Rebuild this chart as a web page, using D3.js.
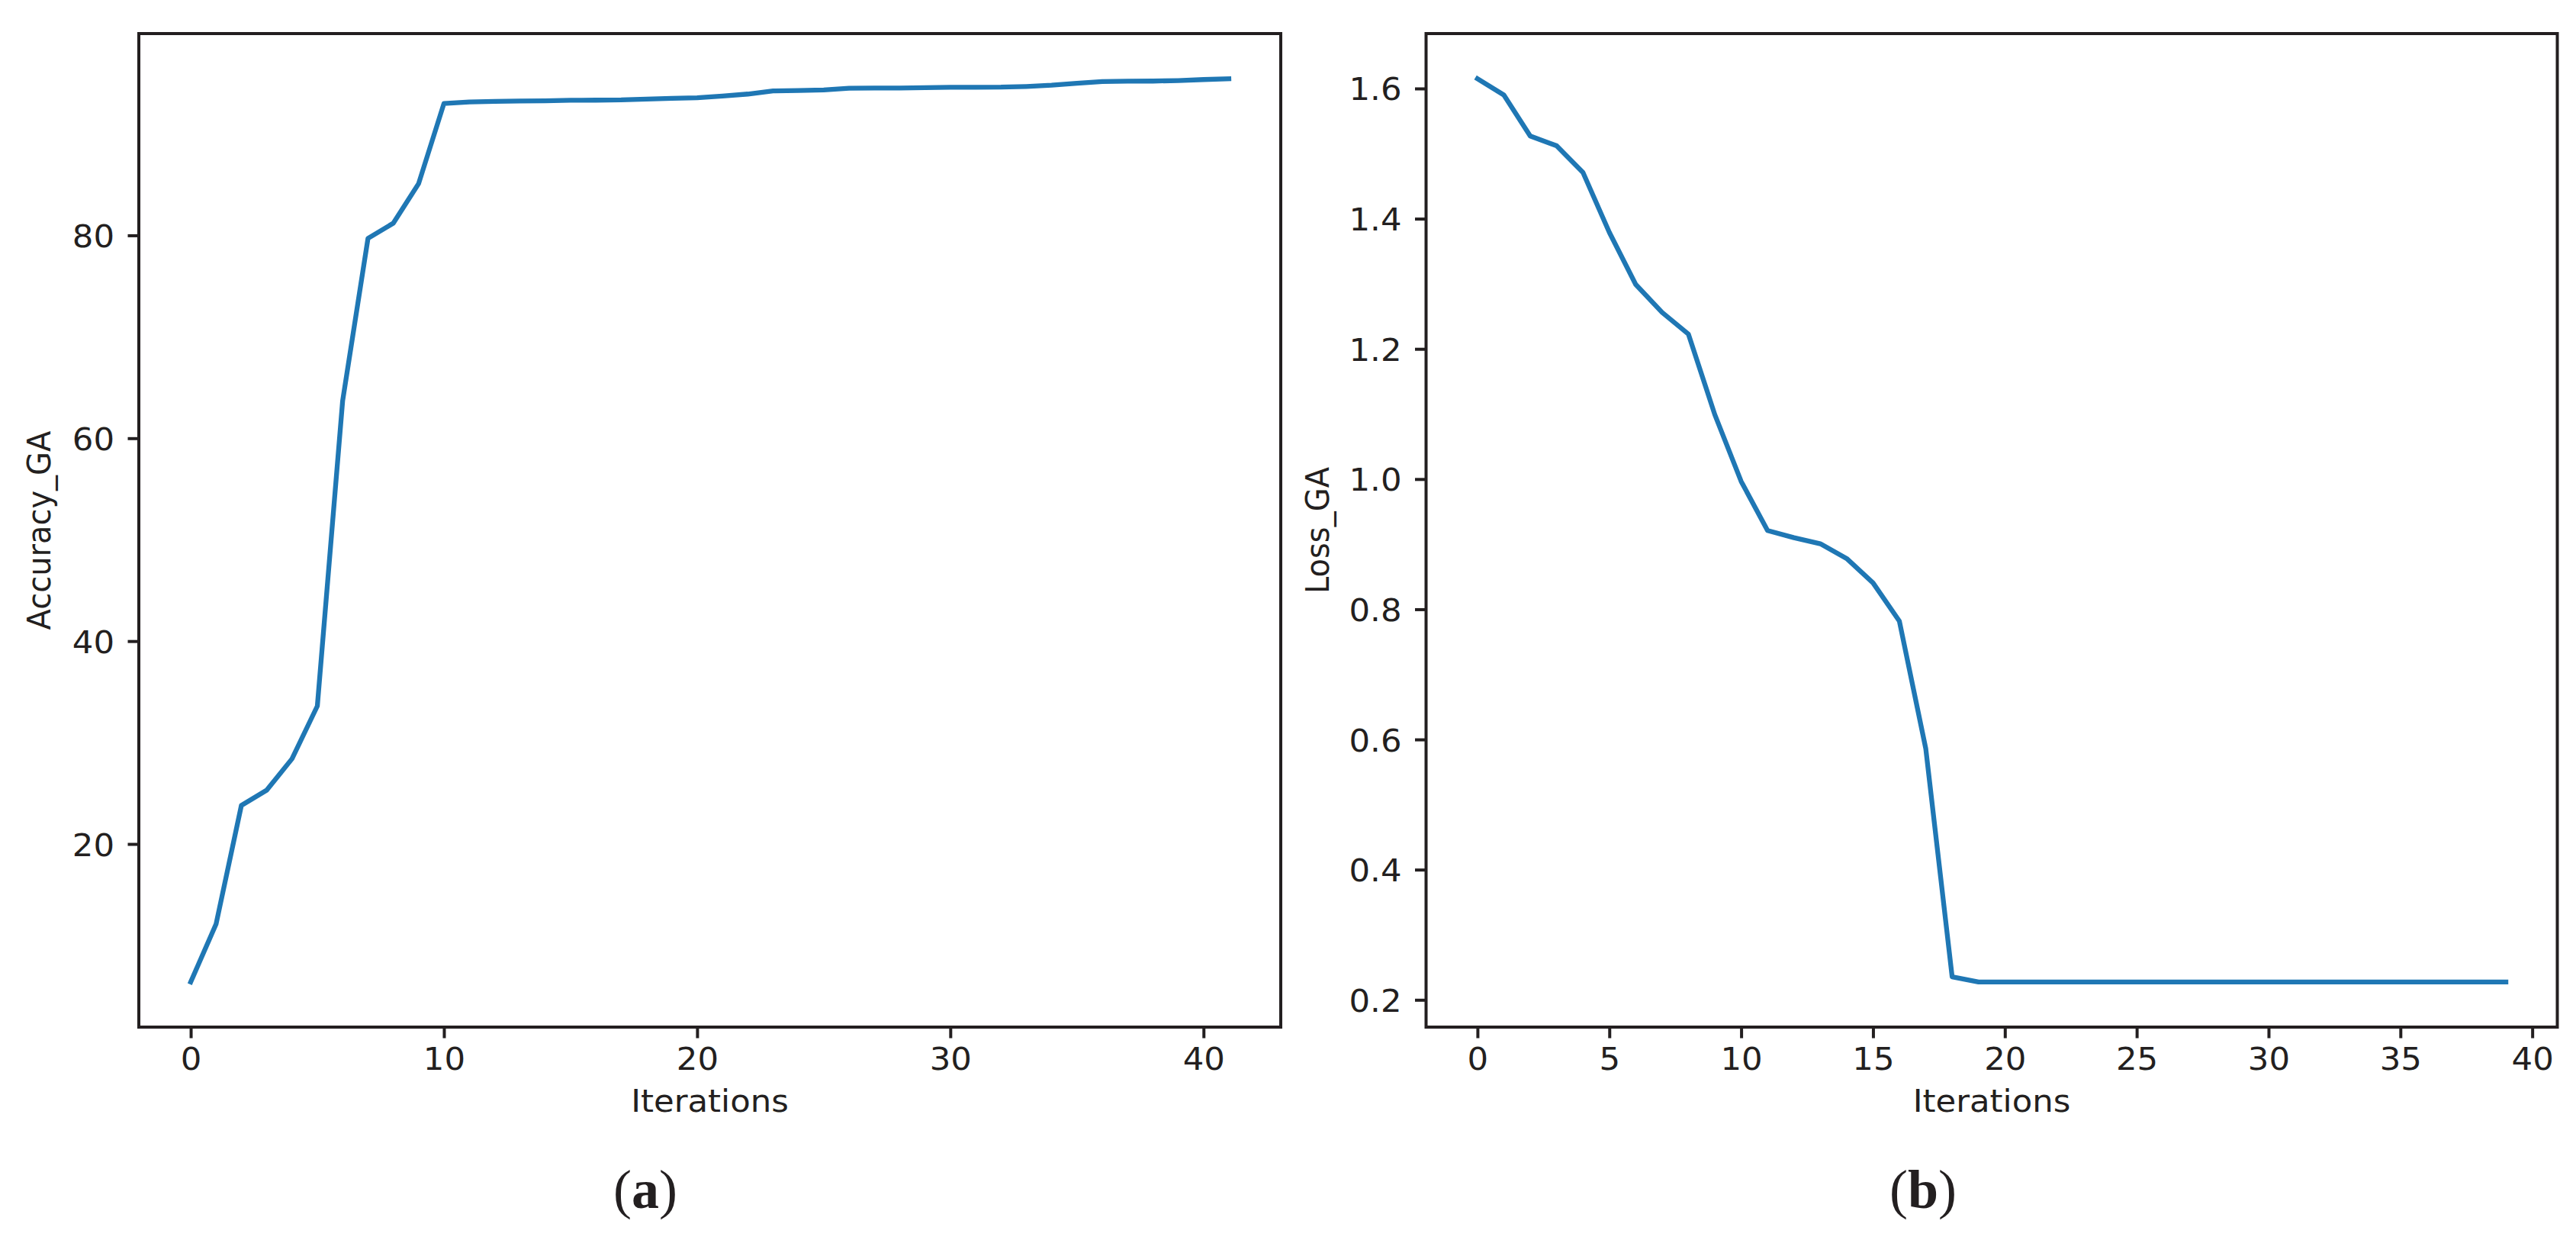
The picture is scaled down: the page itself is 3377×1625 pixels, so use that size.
<!DOCTYPE html>
<html>
<head>
<meta charset="utf-8">
<script src="https://cdn.jsdelivr.net/npm/d3@7"></script>
<style>
  body { margin: 0; background: #fff; }
  svg { display: block; }
</style>
</head>
<body>
<svg id="fig" width="3377" height="1625"></svg>
<script>
// accuracy of the GA per iteration (panel a)
const accuracy = [6.4, 12.1, 23.8, 25.3, 28.4, 33.6, 63.7, 79.7, 81.2, 85.1,
  93.0, 93.15, 93.2, 93.25, 93.26, 93.32, 93.33, 93.35, 93.43, 93.5,
  93.56, 93.73, 93.93, 94.24, 94.28, 94.33, 94.5, 94.52, 94.53, 94.56,
  94.6, 94.6, 94.61, 94.68, 94.8, 95.0, 95.16, 95.2, 95.21, 95.26,
  95.36, 95.44]
// loss of the GA per iteration (panel b)
const loss = [1.615, 1.590, 1.527, 1.512, 1.471, 1.379, 1.299, 1.256, 1.2226, 1.099,
  0.9964, 0.921, 0.910, 0.9006, 0.878, 0.8405, 0.7817, 0.586, 0.2354, 0.2275,
  0.2275, 0.2275, 0.2275, 0.2275, 0.2275, 0.2275, 0.2275, 0.2275, 0.2275, 0.2275,
  0.2275, 0.2275, 0.2275, 0.2275, 0.2275, 0.2275, 0.2275, 0.2275, 0.2275, 0.2275]

const accTicksX = [0, 10, 20, 30, 40]
const accTicksY = [20, 40, 60, 80]
const lossTicksX = [0, 5, 10, 15, 20, 25, 30, 35, 40]
const lossTicksY = [0.2, 0.4, 0.6, 0.8, 1.0, 1.2, 1.4, 1.6]

const ink = '#231f20',
      blue = '#1f77b4',
      font = 'DejaVu Sans',
      fs = 40,
      sx = 1.085   // the picture is a little wider than tall

const svg = d3.select('#fig')
svg.append('rect').attr('width', 3377).attr('height', 1625).attr('fill', '#fff')

// matplotlib style 5% margins
const padDomain = (vals) => {
  const lo = d3.min(vals), hi = d3.max(vals), m = (hi - lo) * 0.05
  return [lo - m, hi + m]
}

const panel = (opt) => {
  const {values, left, right, top, bottom, ticksX, ticksY, fmtY, ylabel, ylabelX, caption, captionX} = opt
  const n = values.length
  const x = d3.scaleLinear().domain([-(n - 1) * 0.05, (n - 1) * 1.05]).range([left, right])
  const y = d3.scaleLinear().domain(padDomain(values)).range([bottom, top])

  const g = svg.append('g')

  const line = d3.line().x((d, i) => x(i)).y(d => y(d))
  g.append('path')
    .datum(values)
    .attr('d', line)
    .attr('fill', 'none')
    .attr('stroke', blue)
    .attr('stroke-width', 6.3)
    .attr('stroke-linejoin', 'round')
    .attr('stroke-linecap', 'square')

  const xAxis = d3.axisBottom(x).tickValues(ticksX).tickSize(14.5).tickSizeOuter(0).tickPadding(13)
  const yAxis = d3.axisLeft(y).tickValues(ticksY).tickSize(14.5).tickSizeOuter(0).tickPadding(15)
  if (fmtY) yAxis.tickFormat(fmtY)

  const gx = g.append('g').attr('transform', `translate(0,${bottom})`).call(xAxis)
  const gy = g.append('g').attr('transform', `translate(${left},0)`).call(yAxis)
  ;[gx, gy].forEach(a => {
    a.select('.domain').remove()
    a.selectAll('line').attr('stroke', ink).attr('stroke-width', 4)
    a.selectAll('text')
      .attr('fill', ink)
      .attr('transform', `scale(${sx},1)`)
      .style('font-family', font)
      .style('font-size', fs + 'px')
  })
  gy.selectAll('text').attr('dy', null).attr('y', 15)

  // frame
  g.append('rect')
    .attr('x', left).attr('y', top)
    .attr('width', right - left).attr('height', bottom - top)
    .attr('fill', 'none').attr('stroke', ink).attr('stroke-width', 4)

  // axis labels
  g.append('text')
    .attr('transform', `translate(${(left + right) / 2},1457) scale(${sx},1)`)
    .attr('text-anchor', 'middle')
    .attr('fill', ink)
    .style('font-family', font).style('font-size', fs + 'px')
    .text('Iterations')
  g.append('text')
    .attr('transform', `translate(${ylabelX},${(top + bottom) / 2}) scale(${sx},1) rotate(-90)`)
    .attr('text-anchor', 'middle')
    .attr('fill', ink)
    .style('font-family', font).style('font-size', fs + 'px')
    .text(ylabel)

  // sub-figure caption
  const cap = g.append('text')
    .attr('x', captionX).attr('y', 1583)
    .attr('text-anchor', 'middle')
    .attr('fill', ink)
    .style('font-family', 'Liberation Serif').style('font-size', '72px')
  cap.append('tspan').text('(')
  cap.append('tspan').attr('font-weight', 'bold').text(caption)
  cap.append('tspan').text(')')
}

panel({values: accuracy, left: 182, right: 1679, top: 44, bottom: 1346,
  ticksX: accTicksX, ticksY: accTicksY, fmtY: null,
  ylabel: 'Accuracy_GA', ylabelX: 66, caption: 'a', captionX: 846})

panel({values: loss, left: 1869.5, right: 3352.5, top: 44, bottom: 1346,
  ticksX: lossTicksX, ticksY: lossTicksY, fmtY: d3.format('.1f'),
  ylabel: 'Loss_GA', ylabelX: 1742, caption: 'b', captionX: 2521})
</script>
</body>
</html>
